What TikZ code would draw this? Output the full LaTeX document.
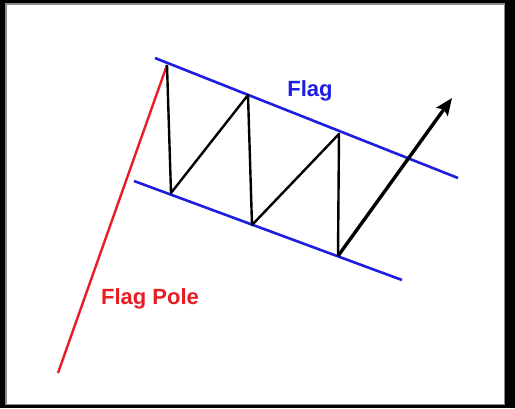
\documentclass[tikz,border=0pt]{standalone}
\usepackage{fontspec}
\setmainfont{Liberation Sans}
\usepackage{tikz}
\usetikzlibrary{arrows.meta}
\definecolor{polered}{RGB}{232,28,36}
\definecolor{flagblue}{RGB}{30,30,225}
\newcommand{\chanw}{2.6pt}
\newcommand{\pricew}{2.4pt}

\begin{document}
\begin{tikzpicture}[x=1pt,y=-1pt,
    channel/.style={draw=flagblue, line width=\chanw},
    price/.style={draw=black, line width=\pricew, line join=round},
    label/.style={font=\fontsize{22}{26}\selectfont\bfseries, inner sep=0pt}]
            % frame
            \fill[black] (0,0) rectangle (515,408);
            \fill[black!45] (5,3) rectangle (505,405);
            \fill[white] (6.5,4.5) rectangle (503.5,403.5);
            \useasboundingbox (0,0) rectangle (515,408);

            \coordinate (base) at (58,373);
            \coordinate (top) at (167,65);
            \coordinate (u1) at (155,58);
            \coordinate (u2) at (458,178);
            \coordinate (l1) at (134,181);
            \coordinate (l2) at (402,280);
            \coordinate (a) at (171,193);
            \coordinate (b) at (248,95);
            \coordinate (c) at (252,225);
            \coordinate (d) at (339,134);
            \coordinate (e) at (338,256);
            \coordinate (tip) at (452,98);

            \draw[polered, line width=2.4pt] (base) -- (top);
            \draw[channel] (u1) -- (u2);
            \draw[channel] (l1) -- (l2);
            \draw[price] (top) -- (a) -- (b) -- (c) -- (d) -- (e);
            \draw[price, line width=3.4pt, -{Stealth[length=17pt,width=14pt,inset=3pt]}] (e) -- (tip);

            \node[label, text=flagblue] (flag) at (310,91) {Flag};
            \node[label, text=polered] (pole) at (150,299) {Flag Pole};
        \end{tikzpicture}
\end{document}
